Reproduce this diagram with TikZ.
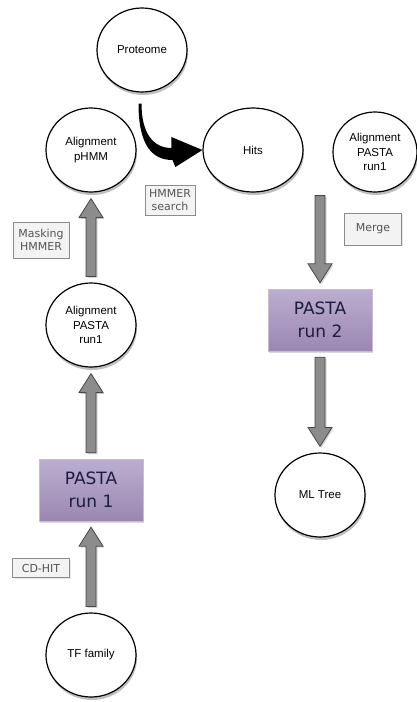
\documentclass[tikz,border=0pt]{standalone}
\usepackage{fontspec}
\setmainfont{Liberation Sans}
\newfontfamily\boxfont{DejaVu Sans}
\usetikzlibrary{shapes.geometric,shadows,calc}

\definecolor{pastatop}{HTML}{BCAED0}
\definecolor{pastabot}{HTML}{9A87B1}
\definecolor{pastaline}{HTML}{C6BCD6}
\definecolor{pastatext}{HTML}{1C1C40}
\definecolor{tagfill}{HTML}{F3F3F3}
\definecolor{tagline}{HTML}{8C8C8C}
\definecolor{tagtext}{HTML}{555555}
\definecolor{arrowfill}{HTML}{8C8C8C}
\definecolor{arrowline}{HTML}{474747}

\tikzset{
  datanode/.style={ellipse, draw=black, line width=1.2pt, fill=white, inner sep=0pt,
    minimum width=90pt, minimum height=84pt, align=center,
    font=\fontsize{11.5}{14.5}\selectfont,
    drop shadow={shadow xshift=1pt, shadow yshift=-3pt, opacity=0.5}},
  pastabox/.style={rectangle, draw=pastaline, top color=pastatop, bottom color=pastabot,
    minimum width=104pt, minimum height=62pt, align=center, text=pastatext,
    font=\boxfont\fontsize{17}{23.5}\selectfont,
    drop shadow={shadow xshift=1pt, shadow yshift=-1.5pt, opacity=0.3}},
  tagbox/.style={rectangle, draw=tagline, fill=tagfill, align=center, text=tagtext,
    inner sep=2pt, font=\boxfont\fontsize{11}{13}\selectfont,
    drop shadow={shadow xshift=1pt, shadow yshift=-1pt, opacity=0.2}},
  grayarrow/.style={fill=arrowfill, draw=arrowline, line width=0.8pt, line join=miter,
    drop shadow={shadow xshift=1.5pt, shadow yshift=-1.5pt, opacity=0.3}},
  hmmarrow/.style={fill=black}
}

% block arrow between two anchors
\newcommand{\blockarrow}[2]{%
  \path coordinate (ba-a) at ($(#1)!6pt!(#2)$)
        coordinate (ba-b) at ($(#2)!6pt!(#1)$);
  \path coordinate (ba-h) at ($(ba-b)!19pt!(ba-a)$);
  \filldraw[grayarrow] ($(ba-a)!5pt!90:(ba-b)$) -- ($(ba-h)!5pt!90:(ba-b)$)
    -- ($(ba-h)!12pt!90:(ba-b)$) -- (ba-b) -- ($(ba-h)!12pt!-90:(ba-b)$)
    -- ($(ba-h)!5pt!-90:(ba-b)$) -- ($(ba-a)!5pt!-90:(ba-b)$) -- cycle;
}

\begin{document}
\begin{tikzpicture}[x=1pt, y=1pt]
\useasboundingbox (0,0) rectangle (417,-702);

% nodes
\node[datanode] (proteome) at (142,-50) {Proteome};
\node[datanode] (phmm) at (91,-150) {Alignment\\pHMM};
\node[datanode, minimum width=100pt] (hits) at (253,-150) {Hits};
\node[datanode, minimum width=84pt, minimum height=80pt] (alnR) at (375,-152) {Alignment\\PASTA\\run1};
\node[datanode] (alnL) at (91,-325) {Alignment\\PASTA\\run1};
\node[pastabox] (pasta1) at (91,-490) {PASTA\\run 1};
\node[datanode] (tf) at (91,-655) {TF family};
\node[pastabox] (pasta2) at (320,-320) {PASTA\\run 2};
\node[datanode] (mltree) at (320,-495) {ML Tree};

% labels
\node[tagbox, minimum width=50pt, minimum height=30pt] (hmmsearch) at (170,-200) {HMMER\\search};
\node[tagbox, minimum width=56pt, minimum height=36pt] (masking) at (41,-240) {Masking\\HMMER};
\node[tagbox, minimum width=57pt, minimum height=32pt] (merge) at (373,-229) {Merge};
\node[tagbox, minimum width=57pt, minimum height=19pt] (cdhit) at (41,-568) {CD-HIT};

% arrows
\fill[hmmarrow] ([xshift=-3.5pt,yshift=-11pt]proteome.south)
  .. controls +(0,-42) and +(-20,0) .. ([xshift=-30pt,yshift=-10pt]hits.west)
  -- ([xshift=-27pt,yshift=-17pt]hits.west)
  -- (hits.west)
  -- ([xshift=-31pt,yshift=13pt]hits.west)
  -- ([xshift=-31pt,yshift=2pt]hits.west)
  .. controls +(-18,0) and +(0,-30) .. ([xshift=-0.5pt,yshift=-11pt]proteome.south)
  -- cycle;
\coordinate (mergein) at ([yshift=3pt]hits.south -| pasta2.north);
\blockarrow{tf.north}{pasta1.south}
\blockarrow{pasta1.north}{alnL.south}
\blockarrow{alnL.north}{phmm.south}
\blockarrow{mergein}{pasta2.north}
\blockarrow{pasta2.south}{mltree.north}
\end{tikzpicture}
\end{document}
